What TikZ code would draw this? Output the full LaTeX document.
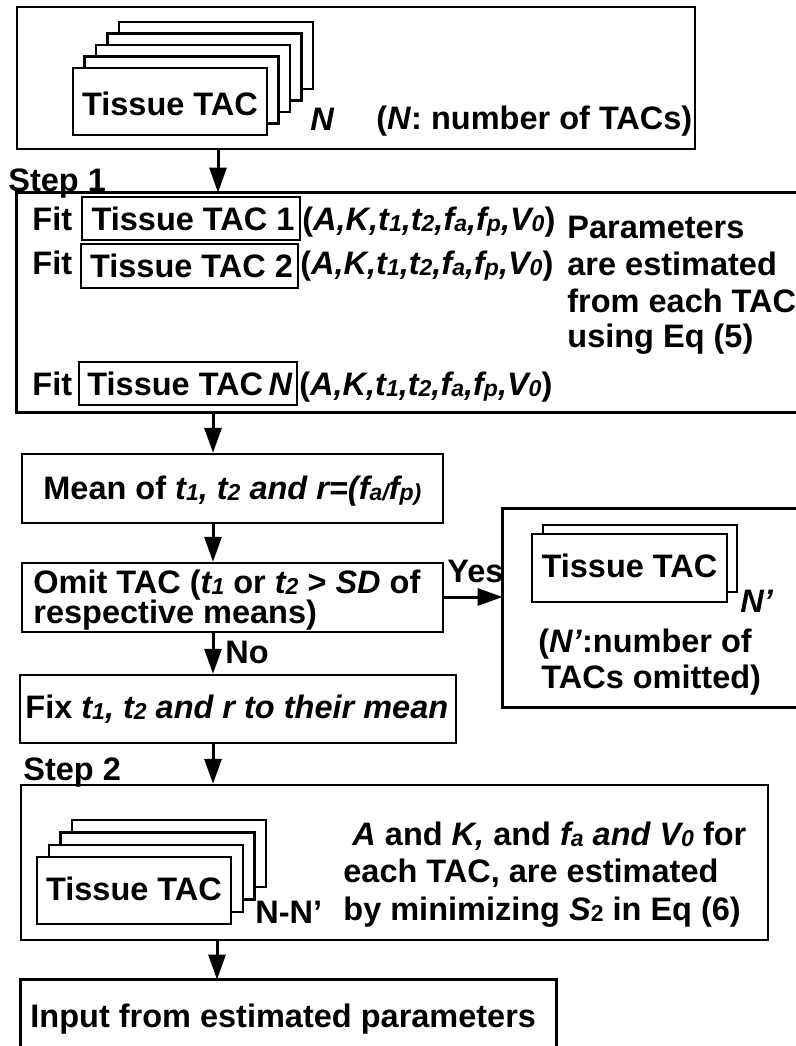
\documentclass[tikz,border=0pt]{standalone}
\usepackage{fontspec}
\setmainfont{Liberation Sans}
\usetikzlibrary{arrows.meta,fit}
\newcommand\sbs[1]{\raisebox{-0.6pt}{\fontsize{11.5}{12}\selectfont #1}}
\begin{document}
\begin{tikzpicture}[x=0.5pt,y=-0.5pt,
  every node/.style={font=\bfseries\fontsize{16.25}{19}\selectfont, inner sep=0pt},
  frame/.style={draw, line width=1.2pt, inner sep=0pt},
  ghost/.style={inner sep=0pt},
  edge/.style={line width=1.2pt},
  card/.style={draw, fill=white, line width=1.2pt, inner sep=0pt},
  txt/.style={anchor=base west},
  ctxt/.style={anchor=center},
  flow/.style={line width=1.5pt, -{Triangle[length=12.5pt,width=8.5pt]}}]
\useasboundingbox (0,0) rectangle (796,1046);

% ---------- top box ----------
\node[frame, fit={(17,7)(695,149)}] (top) {};
\foreach \k in {4,3,2,1}
  \draw[card] ({73+11.5*\k},{68-11.5*\k}) rectangle ++(194,67);
\node[card, fit={(73,68)(267,135)}] (topcard) {};
\node[ctxt] (topcardtxt) at ([yshift=-1pt]topcard.center) {Tissue TAC};
\node[txt] (topN) at (310,130) {\textit{N}};
\node[txt] (topinfo) at (376,129) {(\textit{N}: number of TACs)};

% ---------- step 1 ----------
\node[txt] (step1lbl) at (8,191) {Step 1};
\node[ghost, fit={(17,193)(796,412)}] (step1) {};
\draw[edge] (step1.north east) -- (step1.north west) -- (step1.south west) -- (step1.south east);

\node[txt] (fit1) at (32,230) {Fit};
\node[frame, fit={(82,197)(300,240)}] (tac1) {};
\node[ctxt] (tac1txt) at ([xshift=1pt]tac1.center) {Tissue TAC 1};
\node[txt] (par1) at (302,230) {(\textit{A,K,t\sbs{1},t\sbs{2},f\sbs{a},f\sbs{p},V\sbs{0}})};

\node[txt] (fit2) at (32,274) {Fit};
\node[frame, fit={(81,244)(298,288)}] (tac2) {};
\node[ctxt] (tac2txt) at ([xshift=1pt]tac2.center) {Tissue TAC 2};
\node[txt] (par2) at (300,274) {(\textit{A,K,t\sbs{1},t\sbs{2},f\sbs{a},f\sbs{p},V\sbs{0}})};

\node[txt] (fitN) at (32,395) {Fit};
\node[frame, fit={(79,362)(297,405)}] (tacN) {};
\node[ctxt] (tacNtxt) at ([xshift=1pt]tacN.center) {Tissue TAC\,\textit{N}};
\node[txt] (parN) at (299,395) {(\textit{A,K,t\sbs{1},t\sbs{2},f\sbs{a},f\sbs{p},V\sbs{0}})};

\node[txt] (pl1) at (567,238) {Parameters};
\node[txt] (pl2) at (567,275) {are estimated};
\node[txt] (pl3) at (567,312) {from each TAC};
\node[txt] (pl4) at (567,347) {using Eq (5)};

% ---------- mean / omit / fix ----------
\node[frame, fit={(22,454)(443,523)}] (mean) {};
\node[txt] (meantxt) at (43,499) {Mean of \textit{t\sbs{1}, t\sbs{2} and r=(f\sbs{a/}f\sbs{p)}}};

\node[frame, fit={(22,563)(443,632)}] (omit) {};
\node[txt] (omit1) at (33,593) {Omit TAC (\textit{t\sbs{1}} or \textit{t\sbs{2}} > \textit{SD} of};
\node[txt] (omit2) at (33,623) {respective means)};

\node[frame, fit={(20,675)(456,743)}] (fix) {};
\node[txt] (fixtxt) at (25,718) {Fix \textit{t\sbs{1}, t\sbs{2} and r to their mean}};

% ---------- omitted TACs box ----------
\node[ghost, fit={(503,509)(796,707)}] (omitted) {};
\draw[edge] (omitted.north east) -- (omitted.north west) -- (omitted.south west) -- (omitted.south east);
\draw[card] (543,525) rectangle (737,592);
\node[card, fit={(532,534)(727,602)}] (omcard) {};
\node[ctxt] (omcardtxt) at ([yshift=1pt]omcard.center) {Tissue TAC};
\node[txt] (omN) at (740,612) {\textit{N’}};
\node[txt] (om1) at (538,652) {(\textit{N’}:number of};
\node[txt] (om2) at (541,688) {TACs omitted)};
\node[txt] (yes) at (447,582) {Yes};
\node[txt] (no) at (225,663) {No};

% ---------- step 2 ----------
\node[txt] (step2lbl) at (23,780) {Step 2};
\node[frame, fit={(21,785)(768,940)}] (step2) {};
\foreach \k in {3,2,1}
  \draw[card] ({37+11.7*\k},{857-12.3*\k}) rectangle ++(194,67);
\node[card, fit={(37,857)(231,924)}] (s2card) {};
\node[ctxt] (s2cardtxt) at ([yshift=1pt]s2card.center) {Tissue TAC};
\node[txt] (s2N) at (255,923) {N-N’};
\node[txt] (s2l1) at (343,845) {\ \textit{A} and \textit{K,} and \textit{f\sbs{a} and V\sbs{0}} for};
\node[txt] (s2l2) at (343,882) {each TAC, are estimated};
\node[txt] (s2l3) at (343,920) {by minimizing \textit{S}\sbs{2} in Eq (6)};

% ---------- final ----------
\node[ghost, fit={(21,980)(556,1046)}] (final) {};
\draw[edge] (final.south west) -- (final.north west) -- (final.north east) -- (final.south east);
\node[txt] (finaltxt) at (30,1027) {Input from estimated parameters};

% ---------- connectors ----------
\coordinate (c1) at (218,0);
\coordinate (c2) at (213,0);
\coordinate (c3) at (217,0);
\draw[flow] (top.south -| c1) -- (step1.north -| c1);
\draw[flow] (step1.south -| c2) -- (mean.north -| c2);
\draw[flow] (mean.south -| c2) -- (omit.north -| c2);
\draw[flow] (omit.south -| c2) -- (fix.north -| c2);
\draw[flow] (fix.south -| c2) -- (step2.north -| c2);
\draw[flow] (step2.south -| c3) -- (final.north -| c3);
\draw[flow] (omit.east |- 0,597) -- (omitted.west |- 0,597);
\end{tikzpicture}
\end{document}
